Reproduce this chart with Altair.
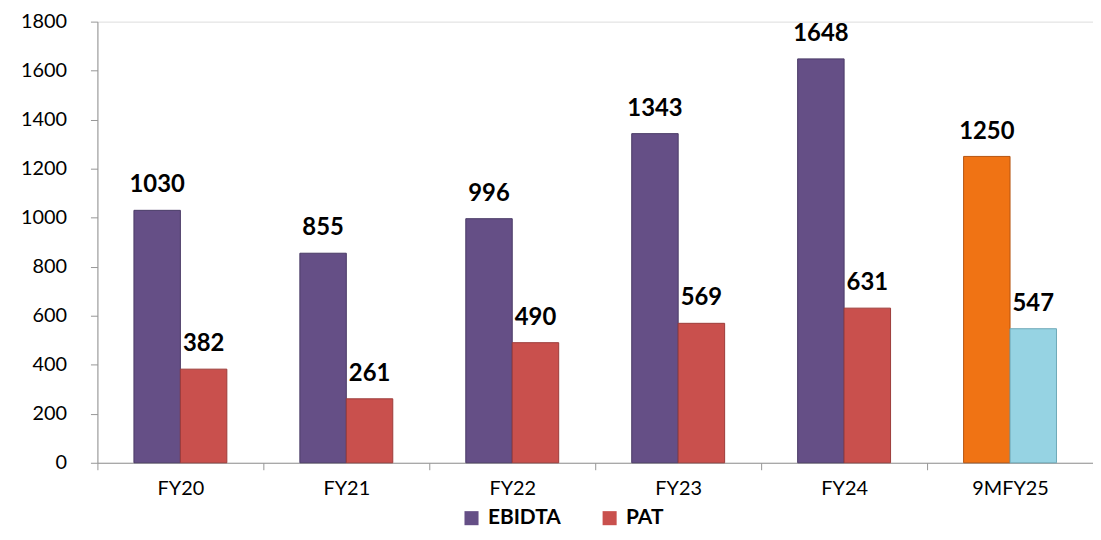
import altair as alt
import pandas as pd

years = ["FY20", "FY21", "FY22", "FY23", "FY24", "9MFY25"]
ebidta = [1030, 855, 996, 1343, 1648, 1250]
pat = [382, 261, 490, 569, 631, 547]
y_ticks = [0, 200, 400, 600, 800, 1000, 1200, 1400, 1600, 1800]

rows = []
for yr, e, p in zip(years, ebidta, pat):
    suffix = "_9M" if yr.startswith("9M") else ""
    rows.append({"Year": yr, "Series": "EBIDTA", "Key": "EBIDTA" + suffix, "Value": e})
    rows.append({"Year": yr, "Series": "PAT", "Key": "PAT" + suffix, "Value": p})
df = pd.DataFrame(rows)

FONT = "Lato"

x = alt.X("Year:N", sort=years, title=None,
          scale=alt.Scale(paddingInner=0, paddingOuter=0),
          axis=alt.Axis(labelAngle=0, labelFontSize=20, labelFont=FONT, labelColor="#000000",
                        tickBand="extent", tickSize=7, tickColor="#969696",
                        domainColor="#969696", labelPadding=9, grid=False))
xoff = alt.XOffset("Series:N", sort=["EBIDTA", "PAT"],
                   scale=alt.Scale(paddingOuter=0.786, paddingInner=0))
y = alt.Y("Value:Q", title=None,
          scale=alt.Scale(domain=[0, 1800], nice=False),
          axis=alt.Axis(values=y_ticks, format="d", labelFontSize=20, labelFont=FONT,
                        labelColor="#000000", tickSize=7, tickColor="#969696",
                        domainColor="#969696", labelPadding=24, grid=False))

color = alt.Color("Key:N",
                  scale=alt.Scale(domain=["EBIDTA", "PAT", "EBIDTA_9M", "PAT_9M"],
                                  range=["#654f86", "#c9504d", "#f07314", "#96d3e3"]),
                  legend=alt.Legend(values=["EBIDTA", "PAT"], title=None, orient="none",
                                    direction="horizontal", legendX=366, legendY=489,
                                    symbolType="square", symbolSize=200,
                                    labelFontSize=21, labelFontWeight="bold", labelFont=FONT,
                                    labelColor="#000000", columnPadding=38, labelOffset=6,
                                    symbolStrokeWidth=0))
stroke = alt.Stroke("Key:N",
                    scale=alt.Scale(domain=["EBIDTA", "PAT", "EBIDTA_9M", "PAT_9M"],
                                    range=["#4a3a66", "#9c3b39", "#b55510", "#6fa9b8"]),
                    legend=None)

base = alt.Chart(df)
bars = base.mark_bar(strokeWidth=1).encode(x=x, xOffset=xoff, y=y, color=color, stroke=stroke)
labels = base.mark_text(baseline="bottom", dy=-13, fontSize=24, fontWeight="bold",
                        font=FONT, color="#000000").encode(
    x=alt.X("Year:N", sort=years), xOffset=xoff, y="Value:Q", text="Value:Q")

chart = alt.layer(bars, labels).properties(
    width=1002, height=444,
    autosize=alt.AutoSizeParams(type="none"),
    padding={"left": 90, "top": 12, "right": 0, "bottom": 75},
).configure_view(stroke=None).configure(background="#ffffff")

chart.save("out.html", embed_options={"renderer": "svg", "actions": False})
